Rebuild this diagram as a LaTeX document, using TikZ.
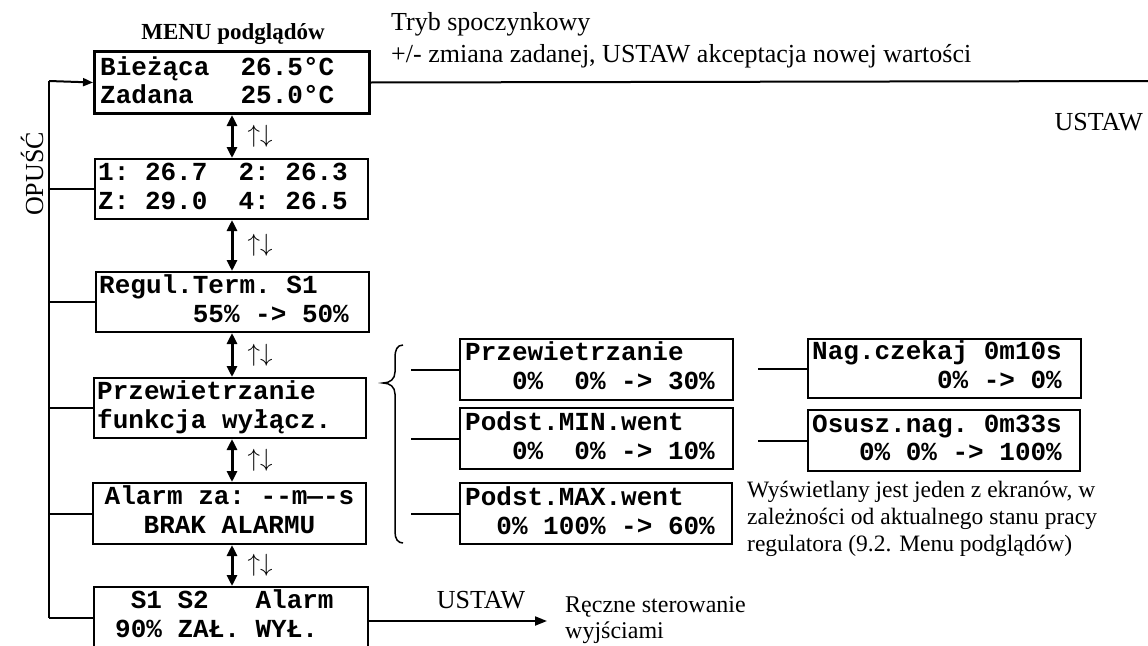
\documentclass[tikz,border=0pt]{standalone}
\usepackage{fontspec}
\setmainfont{Liberation Serif}
\newfontfamily\lcdfont{Liberation Mono}
\usetikzlibrary{arrows.meta,calc}
\newlength\cw
\setlength\cw{15.6pt}
\newcommand\sk[1]{\hspace*{#1\cw}}
\tikzset{
 lcd/.style={draw, line width=2pt, anchor=north west, inner sep=0pt, minimum width=273pt, minimum height=61pt},
 tx/.style={font=\lcdfont\bfseries\fontsize{26}{29}\selectfont, anchor=base west, inner sep=0pt},
 txc/.style={tx, anchor=base},
 lbl/.style={font=\fontsize{23.5}{26}\selectfont, inner sep=0pt, anchor=base west},
 big/.style={font=\fontsize{26}{29}\selectfont, inner sep=0pt},
 conn/.style={line width=2pt},
 nav/.style={line width=3pt, {Triangle[length=11pt,width=10pt]}-{Triangle[length=11pt,width=10pt]}},
 arr/.style={conn, -{Triangle[length=12pt,width=9pt]}},
 ud/.style={font=\fontsize{24}{26}\selectfont, inner sep=0pt},
}
\begin{document}
\begin{tikzpicture}[x=1pt,y=-1pt]
\path[use as bounding box] (0,0) rectangle (1148,645);
\fill[white] (0,0) rectangle (1148,645);
\clip (0,0) rectangle (1148,645);

% main column boxes
\node[lcd, line width=3pt, minimum width=275pt, minimum height=62pt] (b1) at (93,50) {};
\node[tx] (b1a) at ($(b1.north west)+(7,25)$) {Bieżąca\sk{2}26.5°C};
\node[tx] (b1b) at ($(b1.north west)+(7,53)$) {Zadana\sk{3}25.0°C};

\node[lcd, minimum height=60pt] (b2) at (94,158) {};
\node[tx] (b2a) at ($(b2.north west)+(4,22)$) {1:\sk{1}26.7\sk{2}2:\sk{1}26.3};
\node[tx] (b2b) at ($(b2.north west)+(4,51)$) {Z:\sk{1}29.0\sk{2}4:\sk{1}26.5};

\node[lcd, minimum height=60pt] (b3) at (95,271) {};
\node[tx] (b3a) at ($(b3.north west)+(4,22)$) {Regul.Term.\sk{1}S1};
\node[tx] (b3b) at ($(b3.north west)+(4,51)$) {\sk{6}55\%\sk{1}->\sk{1}50\%};

\node[lcd, minimum width=272pt, minimum height=60pt] (b4) at (93,377) {};
\node[tx] (b4a) at ($(b4.north west)+(4,22)$) {Przewietrzanie};
\node[tx] (b4b) at ($(b4.north west)+(4,51)$) {funkcja\sk{1}wyłącz.};

\node[lcd] (b5) at (92,482) {};
\node[txc] (b5a) at ($(b5.north)+(0,22)$) {Alarm\sk{1}za:\sk{1}-\kern0pt-m—\kern0pt-s};
\node[txc] (b5b) at ($(b5.north)+(0,51)$) {BRAK\sk{1}ALARMU};

\node[lcd, minimum width=274pt, minimum height=62pt] (b6) at (93,586) {};
\node[tx] (b6a) at ($(b6.north west)+(22,22)$) {\sk{1}S1\sk{1}S2\sk{3}Alarm};
\node[tx] (b6b) at ($(b6.north west)+(22,51)$) {90\%\sk{1}ZAŁ.\sk{1}WYŁ.};

% middle column
\node[lcd] (bA) at (459,338) {};
\node[tx] (bAa) at ($(bA.north west)+(6,22)$) {Przewietrzanie};
\node[tx] (bAb) at ($(bA.north west)+(6,51)$) {\sk{3}0\%\sk{2}0\%\sk{1}->\sk{1}30\%};

\node[lcd] (bB) at (459,407) {};
\node[tx] (bBa) at ($(bB.north west)+(6,23)$) {Podst.MIN.went};
\node[tx] (bBb) at ($(bB.north west)+(6,52)$) {\sk{3}0\%\sk{2}0\%\sk{1}->\sk{1}10\%};

\node[lcd, minimum width=272pt] (bC) at (459,482) {};
\node[tx] (bCa) at ($(bC.north west)+(6,23)$) {Podst.MAX.went};
\node[tx] (bCb) at ($(bC.north west)+(6,52)$) {\sk{2}0\%\sk{1}100\%\sk{1}->\sk{1}60\%};

% right column
\node[lcd, minimum height=59pt] (bD) at (807,338) {};
\node[tx] (bDa) at ($(bD.north west)+(5,21)$) {Nag.czekaj\sk{1}0m10s};
\node[tx] (bDb) at ($(bD.north west)+(5,50)$) {\sk{8}0\%\sk{1}->\sk{1}0\%};

\node[lcd, minimum width=272pt] (bE) at (807,409) {};
\node[tx] (bEa) at ($(bE.north west)+(5,23)$) {Osusz.nag.\sk{1}0m33s};
\node[tx] (bEb) at ($(bE.north west)+(5,51)$) {\sk{3}0\%\sk{1}0\%\sk{1}->\sk{1}100\%};

% labels
\node[lbl, font=\bfseries\fontsize{23}{26}\selectfont, anchor=base] (menu) at (233,39) {MENU podglądów};
\node[lbl, font=\fontsize{26}{29}\selectfont] (tryb) at (391,30) {Tryb spoczynkowy};
\node[lbl, font=\fontsize{26}{29}\selectfont] (zmiana) at (391,62) {+/- zmiana zadanej, USTAW akceptacja nowej wartości};
\node[big, anchor=base east] (ustaw1) at (1143,130) {USTAW};
\node[big, anchor=base] (ustaw2) at (481,608) {USTAW};
\node[lbl, font=\fontsize{24}{26}\selectfont] (reczne1) at (565,612) {Ręczne sterowanie};
\node[lbl, font=\fontsize{24}{26}\selectfont] (reczne2) at (565,638) {wyjściami};
\node[lbl] (note1) at (747,497) {Wyświetlany jest jeden z ekranów, w};
\node[lbl] (note2) at (747,524) {zależności od aktualnego stanu pracy};
\node[lbl] (note3) at (747,551) {regulatora (9.2. Menu podglądów)};
\node[big, rotate=90, anchor=base] (opusc) at (43,174) {OPUŚĆ};

% navigation arrows between screens
\foreach \a/\b [count=\i] in {b1/b2,b2/b3,b3/b4,b4/b5,b5/b6}{
  \draw[nav] (\a.south -| b1.south) -- (\b.north -| b1.south);
  \node[ud] (ud\i) at ($(\a.south -| b1.south)!0.5!(\b.north -| b1.south)+(28,0)$) {${\uparrow}{\downarrow}$};
}

% OPUŚĆ spine
\coordinate (sp) at (49,81);
\draw[conn] (sp) -- (sp |- b6.west);
\draw[arr, -{Triangle[length=10pt,width=8pt]}] (sp) -- (b1.west);
\foreach \b in {b2,b3,b4,b5,b6}{
  \draw[conn] (sp |- \b.west) -- (\b.west);
}

% top right line
\coordinate (rend) at (1148,81);
\draw[conn] (b1.east) -- (rend);

% bottom arrow
\coordinate (mend) at (547,621);
\draw[arr] (b6.east |- mend) -- (mend);

% brace
\draw[line width=1.5pt] (403,345) .. controls (397,345) and (395,350) .. (395,358)
  -- (395,372) .. controls (395,379) and (390,383) .. (383,383)
  .. controls (390,383) and (395,387) .. (395,394)
  -- (395,532) .. controls (395,539) and (398,543) .. (403,543);

% brace branches
\foreach \b in {bA,bB,bC}{
  \coordinate (\b-l) at ($(\b.west)+(-48,0)$);
  \draw[conn] (\b-l) -- (\b.west);
}
\foreach \b in {bD,bE}{
  \coordinate (\b-l) at ($(\b.west)+(-49,0)$);
  \draw[conn] (\b-l) -- (\b.west);
}
\end{tikzpicture}
\end{document}
